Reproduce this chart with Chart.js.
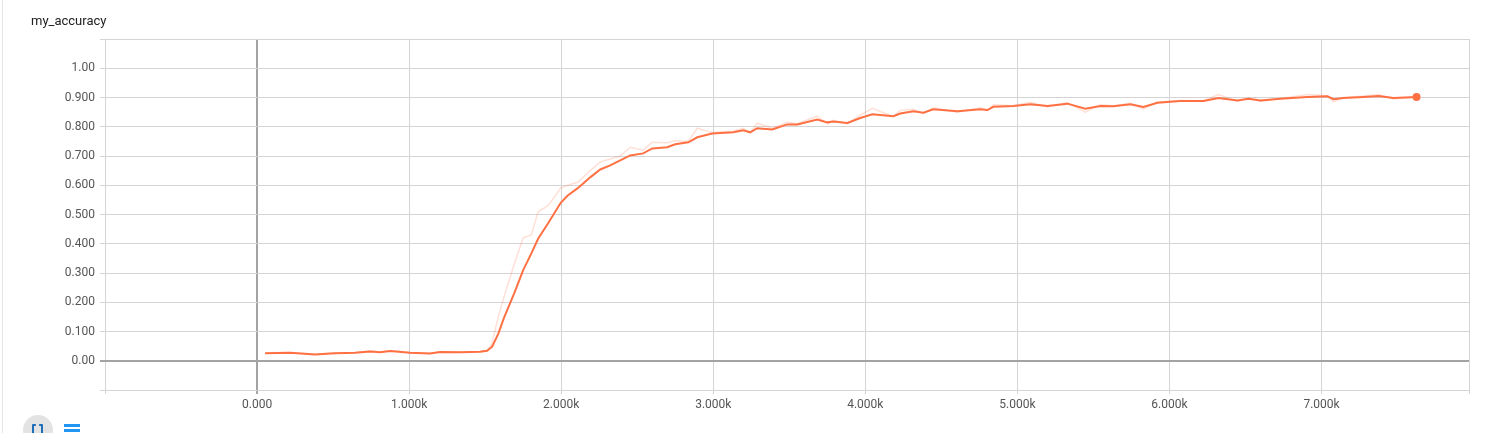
<!DOCTYPE html>
<html>
<head>
<meta charset="utf-8">
<script src="https://cdn.jsdelivr.net/npm/chart.js@4/dist/chart.umd.min.js"></script>
<style>
    html, body { margin: 0; padding: 0; background: #fff; overflow: hidden; }
    body { width: 1488px; height: 433px; position: relative; font-family: Roboto, sans-serif; }
    #card-edge { position: absolute; left: 2px; top: 0; width: 1px; height: 433px; background: #e4e4e4; }
    #title { position: absolute; left: 31px; top: 13px; font-size: 13px; color: #212121; }
    #chart-box { position: absolute; left: 0; top: 0; width: 1488px; height: 433px; }
    #expand-btn { position: absolute; left: 23px; top: 415px; width: 30px; height: 30px; border-radius: 50%; background: #e3e3e3; }
    #expand-btn span { position: absolute; left: 9px; top: 9px; width: 11px; height: 11px; border: 2px solid #1e6fb8; border-radius: 1px; box-sizing: border-box; clip-path: polygon(0 0,35% 0,35% 35%,65% 35%,65% 0,100% 0,100% 100%,0 100%); }
    #menu-btn { position: absolute; left: 64px; top: 424px; width: 16px; }
    #menu-btn div { height: 3px; background: #2196f3; margin-bottom: 2px; }
</style>
</head>
<body>
<div id="card-edge"></div>
<div id="chart-box"><canvas id="accuracyChart" width="1488" height="433"></canvas></div>
<div id="title">my_accuracy</div>
<div id="expand-btn"><span></span></div>
<div id="menu-btn"><div></div><div></div><div></div></div>

<script>
// steps
const steps = [
    53, 217, 382, 513, 645, 743, 809, 875, 1007, 1138, 1204, 1336, 1467, 1513, 1546, 1586,
    1625, 1691, 1750, 1803, 1849, 1914, 1997, 2043, 2109, 2191, 2257, 2322, 2388, 2454,
    2539, 2599, 2697, 2750, 2836, 2895, 2993, 3132, 3197, 3243, 3289, 3388, 3487, 3553,
    3684, 3750, 3789, 3882, 3967, 4046, 4184, 4230, 4316, 4382, 4447, 4605, 4757, 4803,
    4842, 4974, 5086, 5197, 5329, 5447, 5546, 5632, 5743, 5829, 5921, 6072, 6224, 6322,
    6447, 6520, 6599, 6730, 6908, 7039, 7079, 7145, 7276, 7375, 7474, 7625
];

// smoothed accuracy (dark line)
const smoothed = [
    0.026, 0.027, 0.021, 0.026, 0.027, 0.032, 0.029, 0.033, 0.027, 0.025, 0.030, 0.029, 0.031, 0.034, 0.048, 0.092,
    0.148, 0.230, 0.310, 0.366, 0.418, 0.470, 0.540, 0.565, 0.590, 0.627, 0.654, 0.668, 0.685, 0.702,
    0.709, 0.726, 0.730, 0.740, 0.747, 0.764, 0.777, 0.781, 0.788, 0.781, 0.795, 0.791, 0.808, 0.808,
    0.825, 0.815, 0.818, 0.813, 0.830, 0.843, 0.836, 0.845, 0.853, 0.848, 0.860, 0.853, 0.860, 0.857,
    0.868, 0.871, 0.877, 0.871, 0.879, 0.862, 0.871, 0.870, 0.877, 0.868, 0.882, 0.888, 0.888, 0.898,
    0.890, 0.896, 0.890, 0.896, 0.902, 0.904, 0.894, 0.898, 0.902, 0.905, 0.898, 0.902
];

// raw accuracy (faint line)
const raw = [
    0.027, 0.028, 0.022, 0.027, 0.028, 0.034, 0.030, 0.035, 0.027, 0.025, 0.031, 0.030, 0.032, 0.036, 0.060, 0.150,
    0.220, 0.330, 0.420, 0.430, 0.510, 0.530, 0.590, 0.600, 0.610, 0.650, 0.680, 0.690, 0.700, 0.730,
    0.720, 0.747, 0.745, 0.753, 0.750, 0.795, 0.780, 0.785, 0.795, 0.780, 0.812, 0.795, 0.815, 0.810,
    0.836, 0.810, 0.822, 0.810, 0.840, 0.863, 0.835, 0.856, 0.860, 0.845, 0.865, 0.850, 0.865, 0.855,
    0.875, 0.872, 0.884, 0.868, 0.883, 0.850, 0.875, 0.872, 0.880, 0.860, 0.885, 0.890, 0.888, 0.910,
    0.887, 0.898, 0.887, 0.897, 0.910, 0.906, 0.885, 0.900, 0.905, 0.910, 0.895, 0.902
];

const yTicks = [0, 0.1, 0.2, 0.3, 0.4, 0.5, 0.6, 0.7, 0.8, 0.9, 1.0];
const xTicks = [0, 1000, 2000, 3000, 4000, 5000, 6000, 7000];

const orange = "#ff7043";

function toPoints(values) {
    return steps.map((s, i) => ({ x: s, y: values[i] }));
}

function near(a, b) {
    return Math.abs(a - b) < 1e-6;
}

const ctx = document.getElementById("accuracyChart").getContext("2d");

new Chart(ctx, {
    type: "line",
    data: {
        datasets: [
            {
                label: "raw",
                data: toPoints(raw),
                borderColor: "rgba(255,112,67,0.22)",
                borderWidth: 1.5,
                pointRadius: 0,
                tension: 0,
            },
            {
                label: "smoothed",
                data: toPoints(smoothed),
                borderColor: orange,
                backgroundColor: orange,
                borderWidth: 2,
                pointRadius: steps.map((s, i) => (i === steps.length - 1 ? 4 : 0)),
                pointBorderWidth: 0,
                tension: 0,
            },
        ],
    },
    options: {
        responsive: false,
        animation: false,
        layout: { padding: { top: 39, right: 19, left: 0, bottom: 0 } },
        plugins: { legend: { display: false }, tooltip: { enabled: false } },
        scales: {
            x: {
                type: "linear",
                min: -1000,
                max: 7970,
                afterFit: (scale) => { scale.height = 43; },
                afterBuildTicks: (scale) => {
                    scale.ticks = [-1000, ...xTicks, 7970].map((v) => ({ value: v }));
                },
                border: { display: false },
                grid: {
                    color: (c) => (near(c.tick.value, 0) ? "#a3a3a3" : "#d4d4d4"),
                    lineWidth: (c) => (near(c.tick.value, 0) ? 2 : 1),
                    tickLength: 4,
                },
                ticks: {
                    padding: 4,
                    color: "#555",
                    font: { family: "Roboto", size: 12 },
                    maxRotation: 0,
                    autoSkip: false,
                    callback: (v) => {
                        if (!xTicks.some((t) => near(t, v))) return "";
                        return near(v, 0) ? "0.000" : (v / 1000).toFixed(3) + "k";
                    },
                },
            },
            y: {
                type: "linear",
                min: -0.1,
                max: 1.1,
                afterFit: (scale) => { scale.width = 105; },
                afterBuildTicks: (scale) => {
                    scale.ticks = [-0.1, ...yTicks, 1.1].map((v) => ({ value: v }));
                },
                border: { display: false },
                grid: {
                    color: (c) => (near(c.tick.value, 0) ? "#a3a3a3" : "#d4d4d4"),
                    lineWidth: (c) => (near(c.tick.value, 0) ? 2 : 1),
                    tickLength: 5,
                },
                ticks: {
                    padding: 5,
                    color: "#555",
                    font: { family: "Roboto", size: 12 },
                    autoSkip: false,
                    callback: (v) => {
                        if (!yTicks.some((t) => near(t, v))) return "";
                        if (near(v, 0) || near(v, 1)) return v.toFixed(2);
                        return v.toFixed(3);
                    },
                },
            },
        },
    },
});
</script>
</body>
</html>
